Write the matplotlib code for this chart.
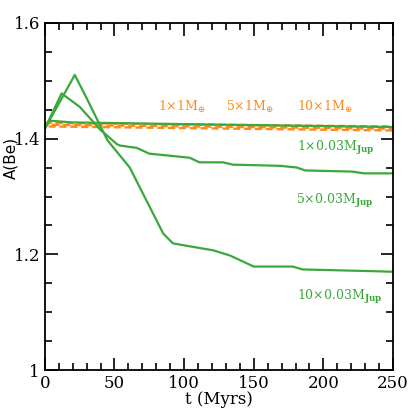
import matplotlib
matplotlib.use('Agg')
import matplotlib.pyplot as plt
from matplotlib.ticker import MultipleLocator

# Be abundance vs time
t_earth = [0, 250]
be_1earth = [1.427, 1.421]
be_5earth = [1.424, 1.417]
be_10earth = [1.421, 1.414]

t_jup1 = [0, 3, 20, 100, 250]
be_jup1 = [1.417, 1.431, 1.428, 1.425, 1.420]

t_jup5 = [0, 12, 25, 40, 52, 54, 66, 75, 104, 111, 128, 135, 169, 181, 187, 221, 229, 250]
be_jup5 = [1.417, 1.478, 1.455, 1.415, 1.390, 1.388, 1.384, 1.374, 1.367, 1.359, 1.359,
           1.355, 1.353, 1.350, 1.345, 1.343, 1.340, 1.340]

t_jup10 = [0, 21.5, 30, 45, 61, 73, 85, 92, 104, 121, 133, 150, 178, 185, 236, 250]
be_jup10 = [1.417, 1.510, 1.470, 1.397, 1.350, 1.293, 1.236, 1.219, 1.214, 1.207, 1.198,
            1.179, 1.179, 1.174, 1.171, 1.170]

orange = '#ff8a1c'
green = '#3aa83a'

plt.rcParams['mathtext.fontset'] = 'dejavuserif'

fig = plt.figure(figsize=(4.15, 4.15), dpi=100)
ax = fig.add_axes([0.108, 0.108, 0.839, 0.837])

for yy, off in [(be_1earth, 0), (be_5earth, 1.5), (be_10earth, 3)]:
    ax.plot(t_earth, yy, color=orange, lw=1.7, ls=(off, (3, 1.6)))
ax.plot(t_jup1, be_jup1, color=green, lw=1.6)
ax.plot(t_jup5, be_jup5, color=green, lw=1.6)
ax.plot(t_jup10, be_jup10, color=green, lw=1.6)

lab = dict(fontsize=9, family='DejaVu Serif', va='center', ha='left')
ax.text(81, 1.455, r'1$\times$1M$_{\oplus}$', color=orange, **lab)
ax.text(130, 1.455, r'5$\times$1M$_{\oplus}$', color=orange, **lab)
ax.text(181, 1.455, r'10$\times$1M$_{\oplus}$', color=orange, **lab)
ax.text(181, 1.384, r'1$\times$0.03M$_{\mathbf{Jup}}$', color=green, **lab)
ax.text(180, 1.293, r'5$\times$0.03M$_{\mathbf{Jup}}$', color=green, **lab)
ax.text(181, 1.126, r'10$\times$0.03M$_{\mathbf{Jup}}$', color=green, **lab)

ax.set_xlim(0, 250)
ax.set_ylim(1.0, 1.6)
ax.xaxis.set_major_locator(MultipleLocator(50))
ax.xaxis.set_minor_locator(MultipleLocator(10))
ax.yaxis.set_major_locator(MultipleLocator(0.2))
ax.yaxis.set_minor_locator(MultipleLocator(0.05))
ax.set_yticks([1.0, 1.2, 1.4, 1.6])
ax.set_yticklabels(['1', '1.2', '1.4', '1.6'])
ax.tick_params(which='both', direction='in', top=True, right=True, width=1.2,
               labelsize=12)
ax.tick_params(which='major', length=9)
ax.tick_params(which='minor', length=5)
for lbl in ax.get_xticklabels() + ax.get_yticklabels():
    lbl.set_family('DejaVu Serif')
for s in ax.spines.values():
    s.set_linewidth(1.3)

ax.set_xlabel('t (Myrs)', fontsize=12, family='DejaVu Serif', labelpad=-1)
ax.set_ylabel('A(Be)', fontsize=11)
ax.yaxis.set_label_coords(-0.075, 0.61)

fig.savefig('out.png', dpi=100)
